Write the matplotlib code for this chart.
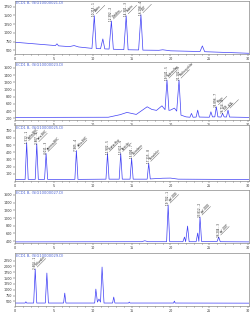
import matplotlib.pyplot as plt

# ---- data (retention time in min, detector response) ----
titles = [
    "ECD1 B, (SIG10000021.D)",
    "ECD1 B, (SIG10000023.D)",
    "ECD1 B, (SIG10000025.D)",
    "ECD1 B, (SIG10000027.D)",
    "ECD1 B, (SIG10000029.D)",
]

# panel 1
t1 = [0, 5.2, 5.4, 5.6, 7.0, 7.6, 8.2, 9.9, 10.2, 10.45, 11.0, 11.3, 11.55,
      12.1, 12.4, 12.65, 14.0, 14.3, 14.55, 15.9, 16.2, 16.45, 18.5, 19.0,
      20.0, 23.8, 24.1, 24.4, 30.1]
v1 = [735, 640, 690, 632, 610, 640, 600, 560, 1490, 555, 550, 830, 545,
      540, 1340, 535, 525, 1490, 520, 515, 1520, 510, 505, 520,
      490, 470, 630, 465, 420]

# panel 2
t2 = [0, 12.0, 13.5, 14.4, 15.6, 17.0, 17.6, 18.2, 18.9, 19.3, 19.55, 19.8,
      20.0, 20.5, 20.8, 21.1, 21.35, 22.0, 22.5, 22.7, 22.9, 23.3, 23.5,
      23.7, 25.0, 25.2, 25.4, 25.7, 25.9, 26.1, 26.5, 26.7, 26.9, 27.2,
      27.4, 27.6, 30.1]
v2 = [225, 230, 300, 364, 308, 520, 447, 420, 547, 440, 1261, 420,
      428, 483, 400, 1261, 289, 240, 230, 336, 230, 235, 428,
      235, 230, 381, 240, 240, 520, 240, 235, 336, 240, 235,
      428, 235, 225]

# panel 3
t3 = [0, 1.3, 1.5, 1.7, 2.6, 2.8, 3.0, 3.8, 4.0, 4.2, 7.7, 7.9, 8.1,
      11.7, 11.9, 12.1, 13.4, 13.6, 13.8, 14.8, 15.0, 15.2, 17.0, 17.2,
      17.4, 19.0, 20.0, 21.0, 30.1]
v3 = [20, 20, 532, 22, 22, 518, 22, 22, 382, 22, 22, 423, 22,
      25, 382, 25, 25, 382, 25, 25, 314, 25, 25, 245,
      28, 38, 40, 25, 20]

# panel 4
t4 = [0, 16.3, 16.7, 17.1, 19.5, 19.7, 19.9, 21.6, 21.8, 21.95, 22.2,
      22.4, 23.3, 23.5, 23.65, 23.8, 24.0, 26.0, 26.2, 26.4, 30.1]
v4 = [380, 385, 410, 385, 385, 1338, 385, 385, 506, 385, 792,
      385, 385, 610, 390, 1026, 390, 390, 506, 385, 380]

# panel 5
t5 = [0, 1.3, 1.4, 1.5, 2.4, 2.6, 2.8, 3.9, 4.1, 4.3, 6.25, 6.4, 6.55,
      10.25, 10.4, 10.6, 10.8, 11.0, 11.2, 11.45, 12.55, 12.7, 12.85,
      14.6, 14.7, 14.8, 20.4, 20.5, 20.6, 30.1]
v5 = [430, 430, 484, 430, 430, 1886, 430, 430, 1714, 430, 430, 857, 430,
      430, 1029, 470, 600, 470, 1971, 430, 430, 686, 430,
      430, 471, 430, 430, 514, 430, 425]

traces = [(t1, v1), (t2, v2), (t3, v3), (t4, v4), (t5, v5)]

y_limits = [(400, 1914), (150, 1761), (0, 777), (350, 1728), (300, 2571)]
y_ticks = [
    [500, 750, 1000, 1250, 1500, 1750],
    [200, 400, 600, 800, 1000, 1200, 1400, 1600],
    [100, 200, 300, 400, 500, 600, 700],
    [400, 600, 800, 1000, 1200, 1400, 1600],
    [500, 750, 1000, 1250, 1500, 1750, 2000, 2250],
]

# labelled peaks: (time, apex, vertical label, slanted label)
peak_labels = [
    [(10.2, 1490, "10.215 - 1", "Aldrin"), (12.4, 1340, "12.392 - 2", "Dieldrin"),
     (14.3, 1490, "14.301 - 3", "Endrin"), (16.2, 1520, "16.198 - 4", "DDT")],
    [(19.55, 1261, "19.541 - 5", "Endosulfan"), (21.1, 1261, "21.102 - 6", "Methoxychlor"),
     (25.9, 520, "25.896 - 7", "Mirex"), (26.7, 336, "26.714 - 8", "PCB"),
     (27.4, 428, "", "HCB")],
    [(1.5, 532, "1.512 - 1", "alpha-BHC"), (2.8, 518, "2.807 - 2", "beta-BHC"),
     (4.0, 382, "4.011 - 3", "gamma-BHC"), (7.9, 423, "7.905 - 4", "delta-BHC"),
     (11.9, 382, "11.902 - 5", "Heptachlor"), (13.6, 382, "13.611 - 6", "Epoxide"),
     (15.0, 314, "15.004 - 7", "Chlordane"), (17.2, 245, "17.215 - 8", "Nonachlor")],
    [(19.7, 1338, "19.702 - 1", "p,p'-DDE"), (23.8, 1026, "23.812 - 2", "p,p'-DDD"),
     (26.2, 506, "26.204 - 3", "o,p'-DDT")],
    [(2.6, 1886, "2.604 - 1", "Trifluralin")],
]

line_color = "#3f3ff5"
title_color = "#4b63d8"
frame_color = "#888888"

# axes rectangles in figure fraction (left, bottom, width, height)
positions = [
    (0.06, 0.827, 0.936, 0.170),
    (0.06, 0.615, 0.936, 0.186),
    (0.06, 0.420, 0.936, 0.179),
    (0.06, 0.221, 0.936, 0.170),
    (0.06, 0.019, 0.936, 0.170),
]

fig = plt.figure(figsize=(2.5, 3.12), dpi=100)

for i in range(5):
    ax = fig.add_axes(positions[i])
    t, v = traces[i]
    ax.plot(t, v, color=line_color, lw=0.5)
    ax.set_xlim(0, 30.1)
    ax.set_ylim(*y_limits[i])
    ax.set_yticks(y_ticks[i])
    ax.set_xticks([0, 5, 10, 15, 20, 25, 30])
    ax.set_xticks(range(0, 31), minor=True)
    ax.tick_params(labelsize=2.4, length=1.2, width=0.3, pad=1,
                   colors="#333333")
    ax.tick_params(which="minor", length=0.7, width=0.3)
    for s in ax.spines.values():
        s.set_color(frame_color)
        s.set_linewidth(0.5)
    ax.text(0.005, 0.99, titles[i], transform=ax.transAxes, fontsize=2.6,
            color=title_color, ha="left", va="top")

    for (pt, ph, vlab, slab) in peak_labels[i]:
        if vlab:
            ax.text(pt, ph, vlab, rotation=90, fontsize=2.0, color="#222222",
                    ha="center", va="bottom")
        ax.annotate(slab, xy=(pt, ph), xytext=(2.0, 2.0),
                    textcoords="offset points", rotation=45,
                    rotation_mode="anchor", fontsize=2.0, color="#222222",
                    ha="left", va="bottom")
        ax.annotate("", xy=(pt, ph), xytext=(9, 9),
                    textcoords="offset points",
                    arrowprops=dict(arrowstyle="-", lw=0.3, color="#555555"))

fig.savefig("out.png", dpi=100)
